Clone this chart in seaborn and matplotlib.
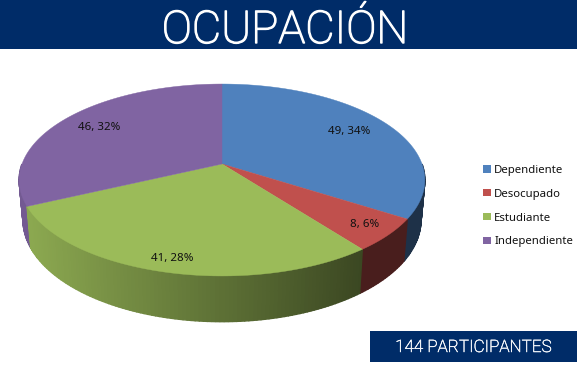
import numpy as np
import matplotlib
matplotlib.use("Agg")
import matplotlib.pyplot as plt
import matplotlib.patheffects as pe
from matplotlib.patches import Patch, Polygon, Rectangle
import seaborn as sns

title = "OCUPACIÓN"
footer = "144 PARTICIPANTES"
categories = ["Dependiente", "Desocupado", "Estudiante", "Independiente"]
values = [49, 8, 41, 46]
base_colors = ["#4F81BD", "#C0504D", "#9BBB59", "#8064A2"]

sns.set_theme(style="white")
plt.rcParams["font.family"] = ["Noto Sans", "DejaVu Sans"]
palette = sns.color_palette(base_colors)
navy = "#002C68"

fig = plt.figure(figsize=(5.77, 3.67), dpi=100)
ax = fig.add_axes([0, 0, 1, 1])
ax.set_xlim(0, 577)
ax.set_ylim(367, 0)
ax.axis("off")

# perspective projection of the pie disc
CX, CY, RX, RY, K = 222, 164, 200, 93.3, 1 / 6


def top_pt(theta, r=1.0):
    u, v = r * np.sin(theta), r * np.cos(theta)
    d = 1 + K * v
    return CX + RX * u / d, CY - RY * v / d


def bottom_pt(theta):
    x, y = top_pt(theta)
    return CX + (x - CX) * 0.981, CY + (y - CY) * 1.06 + 39


def shade(x):
    return np.clip(0.9 - 0.5 * (x - 30) / 320, 0.38, 0.9)


fractions = np.array(values) / sum(values)
edges = np.concatenate([[0], np.cumsum(fractions)]) * 2 * np.pi

# side wall (front half only), painted back to front
quads = []
for i, col in enumerate(palette):
    t = np.arange(edges[i], edges[i + 1], np.radians(1.0))
    t = np.append(t, edges[i + 1])
    for a, b in zip(t[:-1], t[1:]):
        if np.cos((a + b) / 2) < 0:
            quads.append((np.cos((a + b) / 2), a, b, col))
quads.sort(key=lambda q: -q[0])
for _, a, b, col in quads:
    xa, ya = top_pt(a)
    xb, yb = top_pt(b)
    xc, yc = bottom_pt(b)
    xd, yd = bottom_pt(a)
    s = shade((xa + xb) / 2)
    c = tuple(np.array(col) * s)
    ax.add_patch(Polygon([(xa, ya), (xb, yb), (xc, yc), (xd, yd)],
                         closed=True, fc=c, ec=c, lw=1.0))

# top face
for i, col in enumerate(palette):
    t = np.linspace(edges[i], edges[i + 1], 120)
    xs, ys = top_pt(t)
    pts = np.column_stack([np.r_[CX, xs], np.r_[CY, ys]])
    ax.add_patch(Polygon(pts, closed=True, fc=col, ec=col, lw=0.3))

# slice labels
label_radius = [0.77, 0.87, 0.89, 0.78]
for i, v in enumerate(values):
    mid = (edges[i] + edges[i + 1]) / 2
    x, y = top_pt(mid, label_radius[i])
    ax.text(x, y, f"{v}, {round(fractions[i] * 100)}%", ha="center", va="center",
            fontsize=8.3, color="#111111")

# header and footer bands
ax.add_patch(Rectangle((0, 0), 577, 49, fc=navy, ec="none"))
ax.add_patch(Rectangle((370, 331), 207, 31, fc=navy, ec="none"))
ax.text(285, 43, title, ha="center", va="baseline", color="white",
        fontsize=32.5, family="Roboto", weight="light",
        path_effects=[pe.withStroke(linewidth=1.0, foreground="white")])
ax.text(473.5, 352, footer, ha="center", va="baseline", color="#F0F3F8",
        fontsize=12.3, family="Roboto", weight="light",
        path_effects=[pe.withStroke(linewidth=0.4, foreground="#F0F3F8")])

handles = [Patch(fc=c, ec="none") for c in palette]
ax.legend(handles, categories, loc="upper left", bbox_to_anchor=(483 / 577, 1 - 165 / 367),
          frameon=False, fontsize=8.2, labelspacing=1.12, handlelength=0.68,
          handleheight=0.62, handletextpad=0.3, borderpad=0, borderaxespad=0,
          labelcolor="#111111")

fig.savefig("out.png", dpi=100, facecolor="white")
